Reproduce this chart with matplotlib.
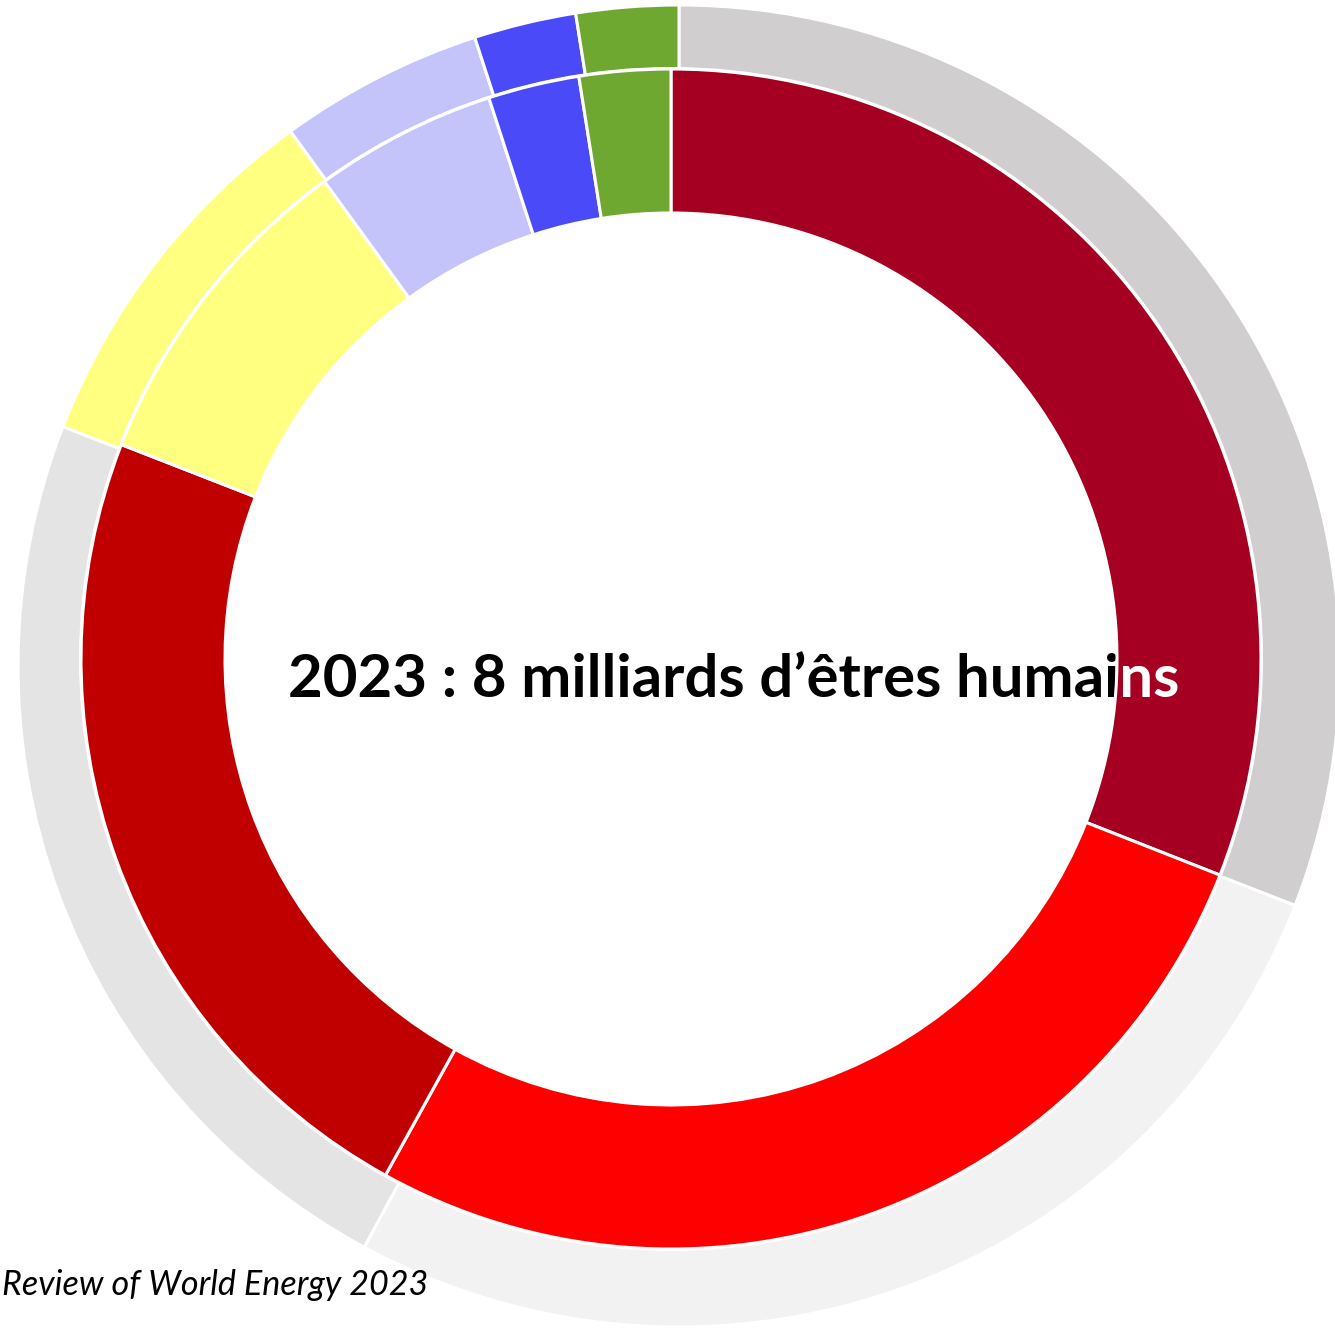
import matplotlib
matplotlib.use("Agg")
import matplotlib.pyplot as plt
from matplotlib.patches import Circle
from matplotlib.transforms import Bbox, TransformedBbox

# canvas size in pixels (axes data units = pixels, y up)
W, H = 1335, 1328

# shares (%), clockwise from 12 o'clock
groups = ["groupe 1", "groupe 2", "groupe 3", "groupe 4", "groupe 5", "groupe 6", "groupe 7"]
inner_share = [31.0, 27.1, 22.9, 9.1, 5.0, 2.5, 2.5]
outer_share = [30.9, 27.0, 23.0, 9.1, 5.0, 2.5, 2.5]

inner_colors = ["#A50021", "#FF0000", "#C00000", "#FFFF80", "#C4C4FA", "#4A4AF9", "#6EA830"]
outer_colors = ["#D0CECE", "#F2F2F2", "#E4E4E4", "#FFFF80", "#C4C4FA", "#4A4AF9", "#6EA830"]

title = "2023 : 8 milliards d\u2019êtres humains"
source = "Review of World Energy 2023"

fig = plt.figure(figsize=(W / 100, H / 100), dpi=100)
ax = fig.add_axes([0, 0, 1, 1])

# outer ring: full pie, its middle is hidden by a white disk
ax.pie(outer_share, labels=None, colors=outer_colors, radius=661,
       center=(679, H - 666), startangle=90, counterclock=False,
       wedgeprops=dict(edgecolor="white", linewidth=2.2), frame=False)
ax.add_patch(Circle((671, H - 659), 592, facecolor="white",
                    edgecolor="none", zorder=1.2))

# inner ring
wedges, _ = ax.pie(inner_share, colors=inner_colors, radius=590,
                   center=(671, H - 659), startangle=90, counterclock=False,
                   wedgeprops=dict(width=144, edgecolor="white", linewidth=2.2),
                   frame=False)
for w in wedges:
    w.set_zorder(2)

ax.set_xlim(0, W)
ax.set_ylim(0, H)
ax.set_aspect("auto")
ax.axis("off")

# centre text: black under the ring, white copy over the ring part
font = dict(family=["Lato", "DejaVu Sans"], fontweight="bold")
t_black = ax.text(734, H - 697, title, ha="center", va="baseline",
                  fontsize=40, color="black", zorder=1.5, **font)
fig.canvas.draw()
renderer = fig.canvas.get_renderer()
fs = 40 * 892 / t_black.get_window_extent(renderer).width
t_black.set_fontsize(fs)
t_white = ax.text(734, H - 697, title, ha="center", va="baseline",
                  fontsize=fs, color="white", zorder=3, clip_on=True, **font)
t_white.set_clip_path(None)
t_white.set_clip_box(TransformedBbox(Bbox([[1116, 0], [W, H]]), ax.transData))

# source line (visible part), bottom left
src = ax.text(2, H - 1295, source, ha="left", va="baseline", fontsize=20,
              style="italic", family=["Lato", "DejaVu Sans"], color="black")
fig.canvas.draw()
src.set_fontsize(20 * 426 / src.get_window_extent(renderer).width)

fig.savefig("out.png", dpi=100)
